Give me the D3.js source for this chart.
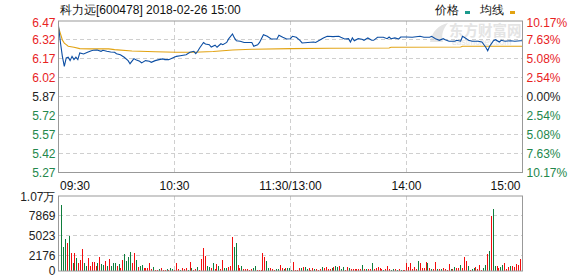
<!DOCTYPE html>
<html lang="zh">
<head>
    <meta charset="UTF-8">
    <script src="https://cdn.jsdelivr.net/npm/d3@7"></script>
    <title>科力远 分时</title>
    <style>
        * {
            margin: 0;
            padding: 0;
            box-sizing: border-box;
        }

        body {
            background: white;
        }

        svg text {
            font-family: "Liberation Sans", Arial, sans-serif;
            font-size: 12px;
        }
    </style>
</head>
<body>
    <svg width="578" height="276"></svg>
    <script>
        let title = '科力远[600478] 2018-02-26 15:00'
        let preClose = 5.87

        let priceTicks = [6.47, 6.32, 6.17, 6.02, 5.87, 5.72, 5.57, 5.42, 5.27]
        let pctTicks = ['10.17%', '7.63%', '5.08%', '2.54%', '0.00%', '2.54%', '5.08%', '7.63%', '10.17%']
        let timeTicks = [0, 60, 120, 180, 240]
        let timeLabels = ['09:30', '10:30', '11:30/13:00', '14:00', '15:00']
        let volTicks = [0, 2176, 5023, 7869, 10700]
        let volLabels = ['0', '2176', '5023', '7869', '1.07万']

        // minute index / price
        let priceMin = [0, 1, 2, 3, 4, 5, 6, 7, 8, 9, 10, 11, 13, 15, 17, 18, 20, 22, 23, 25, 27, 29, 30, 32, 34, 36, 37, 39, 40,
            42, 43, 45, 47, 48, 50, 52, 54, 55, 57, 59, 61, 63, 66, 68, 70, 71, 72, 73, 75, 76, 78, 79, 81, 82, 84, 85, 87, 88,
            90, 91, 92, 94, 96, 97, 100, 101, 103, 104, 106, 108, 110, 111, 113, 114, 116, 118, 120, 121, 123, 125, 126, 129,
            132, 133, 135, 137, 139, 142, 145, 146, 148, 150, 151, 152, 153, 155, 157, 158, 160, 162, 163, 165, 168, 170, 171,
            172, 174, 176, 177, 180, 183, 187, 189, 192, 193, 195, 197, 199, 200, 202, 205, 206, 208, 209, 211, 212, 214, 217,
            219, 221, 222, 223, 225, 226, 228, 229, 231, 234, 236, 239, 240]
        let priceVal = [6.43, 6.30, 6.19, 6.11, 6.177, 6.183, 6.156, 6.19, 6.164, 6.183, 6.164, 6.217, 6.209, 6.222, 6.235, 6.238,
            6.24, 6.23, 6.238, 6.23, 6.225, 6.222, 6.211, 6.203, 6.183, 6.156, 6.132, 6.172, 6.164, 6.151, 6.138, 6.156, 6.151,
            6.143, 6.156, 6.164, 6.17, 6.164, 6.164, 6.177, 6.19, 6.195, 6.203, 6.222, 6.23, 6.211, 6.23, 6.256, 6.30, 6.288,
            6.282, 6.264, 6.278, 6.262, 6.29, 6.282, 6.30, 6.328, 6.367, 6.336, 6.314, 6.31, 6.30, 6.30, 6.30, 6.27, 6.282, 6.30,
            6.362, 6.349, 6.328, 6.328, 6.328, 6.357, 6.341, 6.328, 6.33, 6.349, 6.341, 6.314, 6.296, 6.30, 6.304, 6.30, 6.317,
            6.336, 6.349, 6.346, 6.349, 6.341, 6.328, 6.33, 6.304, 6.336, 6.314, 6.33, 6.325, 6.317, 6.336, 6.317, 6.317, 6.341,
            6.341, 6.33, 6.343, 6.33, 6.336, 6.328, 6.343, 6.343, 6.341, 6.349, 6.341, 6.341, 6.349, 6.33, 6.317, 6.33, 6.322,
            6.31, 6.31, 6.317, 6.31, 6.349, 6.33, 6.317, 6.31, 6.31, 6.304, 6.262, 6.235, 6.27, 6.314, 6.322, 6.304, 6.317, 6.31,
            6.314, 6.31, 6.314, 6.314]

        let avgMin = [0, 1, 2, 3, 4, 5, 8, 11, 16, 26, 29, 38, 50, 61, 70, 80, 90, 100, 120, 140, 171, 172, 208, 209, 240]
        let avgVal = [6.42, 6.37, 6.32, 6.295, 6.283, 6.27, 6.262, 6.251, 6.249, 6.249, 6.243, 6.232, 6.226, 6.222, 6.222,
            6.228, 6.24, 6.246, 6.251, 6.254, 6.256, 6.262, 6.264, 6.27, 6.27]

        // per-minute volume and bar colour (R up / G down)
        let volumes = [
            9420, 3380, 4520, 3950, 5000, 2520, 1190, 2520, 1810, 1190, 1570, 3090, 1190, 710, 1900, 710, 1330, 1330, 710, 1190,
            1950, 950, 860, 1430, 710, 1670, 710, 1190, 1100, 710, 950, 380, 1570, 2430, 1430, 2050, 2660, 1100, 2520, 1570,
            620, 710, 860, 480, 480, 480, 1190, 240, 520, 140, 140, 240, 480, 140, 140, 240, 140, 430, 290, 140, 1190, 290, 140,
            380, 290, 380, 140, 1330,
            380, 140, 240, 520, 140, 1670, 3240, 2140, 710, 520, 380, 1100, 240, 950, 710, 240, 1570, 380, 380, 520, 710, 4810,
            3380, 4050, 860, 380, 710, 240, 240, 240, 140, 240, 380, 710, 140, 140, 140, 2620, 1950, 1430, 380, 380, 240, 140,
            240, 240, 860, 380, 240, 380, 380, 380, 200,
            1330, 140, 140, 380, 380, 520, 520, 240, 380, 140, 380, 240, 240, 140, 240, 520, 380, 520, 240, 240, 380, 520, 710,
            520, 710, 240, 520, 140, 520, 380, 240, 240, 240, 240, 240, 240, 860, 240, 240, 240, 240, 1190, 240, 380, 520, 380,
            240, 140, 240, 710, 240, 140, 240, 240, 140, 240, 140, 140, 140, 1100, 520, 1100, 240, 520, 240, 1430, 1100, 380,
            380, 1330, 1100, 380, 240, 240, 1330, 240, 240, 240, 380, 240, 140, 950, 240, 240, 520, 380, 380, 860, 380, 2050,
            1430, 710, 140, 240, 380, 520, 240, 860, 140, 480, 860, 2430, 2860, 7850, 8850, 710, 710, 480, 520, 860, 1100, 240,
            520, 710, 710, 520, 950, 860, 1710, 1430]
        let volDir = 'GGGRGRGRGRRRGGRRRRRGRGGRGRGGGRGRRGGGGRRGRGGRRRRRGRRGRRRGRGGRRRGRRRGR' +
            'GRRGRRRRGGRGRRGRRGGRRRGGRRGRRRRRGGRRRRRGGRRRGGRRGRGGGR' +
            'RRRGRGGRRRGRRRGRRRRGRGGRGGRRGRRRRRRGRGRRGRRRRRGR' +
            'RRGGRGRGRRRRRRRRGRRRRGRGRRGRGRRRRGRGRRGRRRGRGGRRRRGGRGRGGRRGGRRRGRRRRRGRGR'

        let red = '#f20d0d'
        let green = '#0f7d3c'
        let redText = '#e8231f'
        let greenText = '#23874c'

        let svg = d3.select('svg')

        let left = 58.5, right = 522.5
        let mainTop = 21, mainBottom = 172.5
        let volTop = 196, volBottom = 271

        let xScale = d3.scaleLinear().domain([0, 240]).range([left, right])
        let barX = d3.scaleLinear().domain([0, 240]).range([left + 2.5, right - 1])
        let yScale = d3.scaleLinear().domain([5.27, 6.47]).range([mainBottom, mainTop])
        let volScale = d3.scaleLinear().domain([0, 10700]).range([volBottom, volTop])

        // watermark
        let wm = svg.append('g').attr('fill', '#e4e4e4')
        wm.append('path')
            .attr('d', 'M430,42 C432,31 439,25 448,23 C443,29 441,35 443,42 Z')
        wm.append('text').attr('x', 449).attr('y', 36)
            .style('font-family', '"Noto Sans CJK SC"').style('font-size', '14.5px').style('font-weight', 'bold')
            .text('东方财富网')
        wm.append('text').attr('x', 452).attr('y', 45)
            .style('font-size', '8.5px').text('eastmoney.com')

        // grid
        let grid = svg.append('g')
            .attr('stroke', '#cfcfcf')
            .attr('stroke-dasharray', '4,3')
            .attr('shape-rendering', 'crispEdges')

        grid.selectAll('.hg')
            .data(priceTicks.slice(1, -1))
            .join('line')
            .attr('x1', left).attr('x2', right)
            .attr('y1', d => yScale(d)).attr('y2', d => yScale(d))

        grid.selectAll('.vg')
            .data(timeTicks.slice(1, -1))
            .join('line')
            .attr('class', 'vg')
            .attr('x1', d => xScale(d)).attr('x2', d => xScale(d))
            .attr('y1', mainTop).attr('y2', mainBottom)

        grid.selectAll('.vhg')
            .data(volTicks.slice(1, -1))
            .join('line')
            .attr('class', 'vhg')
            .attr('x1', left).attr('x2', right)
            .attr('y1', d => volScale(d)).attr('y2', d => volScale(d))

        grid.selectAll('.vvg')
            .data(timeTicks.slice(1, -1))
            .join('line')
            .attr('class', 'vvg')
            .attr('x1', d => xScale(d)).attr('x2', d => xScale(d))
            .attr('y1', volTop).attr('y2', volBottom)

        // volume bars
        svg.append('g')
            .attr('shape-rendering', 'crispEdges')
            .selectAll('rect')
            .data(volumes)
            .join('rect')
            .attr('x', (d, i) => Math.round(barX(i)) - 0.5)
            .attr('width', 1)
            .attr('y', d => volScale(d))
            .attr('height', d => volBottom - volScale(d))
            .attr('fill', (d, i) => volDir[i] === 'R' ? red : green)

        // price lines
        let avgLine = d3.line()
            .x((d, i) => xScale(avgMin[i]))
            .y(d => yScale(d))
        svg.append('path')
            .attr('d', avgLine(avgVal))
            .attr('fill', 'none')
            .attr('stroke', '#e2a312')
            .attr('stroke-width', 1.1)

        let priceLine = d3.line()
            .x((d, i) => xScale(priceMin[i]))
            .y(d => yScale(d))
        svg.append('path')
            .attr('d', priceLine(priceVal))
            .attr('fill', 'none')
            .attr('stroke', '#0c4ea3')
            .attr('stroke-width', 1.1)

        // frames
        svg.append('rect')
            .attr('x', left).attr('y', mainTop)
            .attr('width', right - left).attr('height', mainBottom - mainTop)
            .attr('fill', 'none').attr('stroke', '#999')
        svg.append('rect')
            .attr('x', left).attr('y', volTop)
            .attr('width', right - left).attr('height', volBottom - volTop)
            .attr('fill', 'none').attr('stroke', '#999')

        let tickColor = v => v > preClose + 0.001 ? redText : v < preClose - 0.001 ? greenText : '#222'

        svg.append('g')
            .selectAll('text')
            .data(priceTicks)
            .join('text')
            .attr('x', left - 3)
            .attr('y', d => yScale(d) + 4.5 + (d === 6.47 ? 1.5 : 0))
            .attr('text-anchor', 'end')
            .attr('fill', d => tickColor(d))
            .text(d => d.toFixed(2))

        svg.append('g')
            .selectAll('text')
            .data(pctTicks)
            .join('text')
            .attr('x', right + 4)
            .attr('y', (d, i) => yScale(priceTicks[i]) + 4.5 + (i === 0 ? 1.5 : 0))
            .attr('fill', (d, i) => tickColor(priceTicks[i]))
            .text(d => d)

        svg.append('g')
            .selectAll('text')
            .data(timeLabels)
            .join('text')
            .attr('x', (d, i) => xScale(timeTicks[i]) + (i === 0 ? 1.5 : i === 4 ? -2 : 0))
            .attr('y', 190)
            .attr('text-anchor', (d, i) => i === 0 ? 'start' : i === 4 ? 'end' : 'middle')
            .attr('fill', '#111')
            .text(d => d)

        svg.append('g')
            .selectAll('text')
            .data(volLabels)
            .join('text')
            .attr('x', left - 3)
            .attr('y', (d, i) => volScale(volTicks[i]) + (i === 0 ? 3.5 : 4.5))
            .attr('text-anchor', 'end')
            .attr('fill', '#222')
            .text(d => d)

        // title + legend
        svg.append('text')
            .attr('x', 60).attr('y', 14)
            .attr('fill', '#111')
            .text(title)

        svg.append('text').attr('x', 435).attr('y', 14).attr('fill', '#111').text('价格')
        svg.append('rect').attr('x', 465).attr('y', 11).attr('width', 5).attr('height', 3).attr('fill', '#1b9a8c')
        svg.append('text').attr('x', 480).attr('y', 14).attr('fill', '#111').text('均线')
        svg.append('rect').attr('x', 510).attr('y', 11).attr('width', 5).attr('height', 3).attr('fill', '#e2a312')
    </script>
</body>
</html>
